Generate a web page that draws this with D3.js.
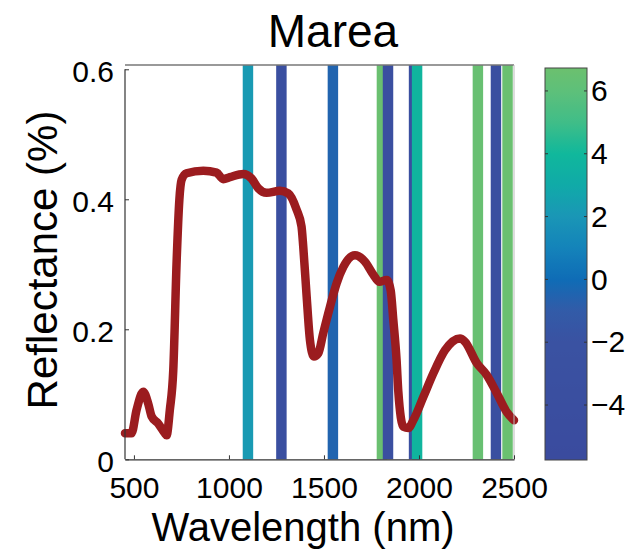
<!DOCTYPE html>
<html>
<head>
<meta charset="utf-8">
<script src="https://cdn.jsdelivr.net/npm/d3@7"></script>
<style>
  body { margin: 0; background: #fff; }
  text { font-family: "Liberation Sans", Arial, sans-serif; }
</style>
</head>
<body>
<div id="chart"></div>
<script>
// spectrum
const wavelengths = [453, 487, 514, 549, 575, 593, 628, 663, 672, 689, 707, 725, 739, 751, 777, 865, 935, 970, 1005, 1075, 1119, 1154, 1198, 1268, 1312, 1356, 1382, 1391, 1409, 1426, 1447, 1470, 1496, 1532, 1567, 1602, 1663, 1716, 1760, 1791, 1830, 1851, 1865, 1882, 1891, 1918, 1944, 1970, 2023, 2075, 2137, 2216, 2242, 2304, 2356, 2409, 2461, 2500];
const reflectance = [0.040, 0.040, 0.076, 0.104, 0.086, 0.066, 0.055, 0.040, 0.037, 0.076, 0.137, 0.307, 0.399, 0.430, 0.440, 0.444, 0.441, 0.431, 0.434, 0.439, 0.432, 0.417, 0.410, 0.413, 0.409, 0.384, 0.358, 0.327, 0.250, 0.184, 0.158, 0.163, 0.194, 0.235, 0.271, 0.296, 0.314, 0.304, 0.284, 0.273, 0.276, 0.260, 0.214, 0.153, 0.105, 0.050, 0.048, 0.060, 0.096, 0.132, 0.168, 0.186, 0.181, 0.148, 0.130, 0.102, 0.073, 0.060];

// selected bands and their weights (colour)
const bandCenters = [1100, 1276, 1547, 1805, 1837, 1974, 1990, 2310, 2405, 2466];
const bandValues = [2.2, -3.5, -0.5, 6.6, -3.5, -3.5, 3.8, 6.5, -3.5, 6.6];

const xTicks = [500, 1000, 1500, 2000, 2500];
const yTicks = [0, 0.2, 0.4, 0.6];
const cbTicks = [-4, -2, 0, 2, 4, 6];

const cmapValues = [-5.75, -2, -1, 0, 1, 2, 3, 4, 5, 6, 6.73];
const cmapColors = ["#3a4b9e", "#3a52a2", "#325ba8", "#0f6cb6", "#1483ba", "#1a96b6", "#10aaa8", "#10b89c", "#40bd88", "#5ec07a", "#6cc06e"];

const width = 635, height = 551;
const plotLeft = 125, plotRight = 514, plotTop = 65, plotBottom = 459.3;
const cbLeft = 545, cbRight = 587, cbTop = 68, cbBottom = 460;
const bandWidth = 55;
const fontTick = 30;

const svg = d3.select("#chart").append("svg")
    .attr("width", width)
    .attr("height", height);

const x = d3.scaleLinear().domain([453, 2500]).range([plotLeft, plotRight]);
const y = d3.scaleLinear().domain([0, 0.6066]).range([plotBottom, plotTop]);
const color = d3.scaleLinear().domain(cmapValues).range(cmapColors);
const cb = d3.scaleLinear().domain([-5.75, 6.73]).range([cbBottom, cbTop]);

// bands
svg.append("g").selectAll("rect")
    .data(bandCenters)
    .enter()
    .append("rect")
    .attr("x", d => x(d - bandWidth / 2))
    .attr("width", d => x(d + bandWidth / 2) - x(d - bandWidth / 2))
    .attr("y", plotTop)
    .attr("height", plotBottom - plotTop)
    .attr("fill", (d, i) => color(bandValues[i]));

// spectrum
const line = d3.line()
    .x((d, i) => x(wavelengths[i]))
    .y(d => y(d))
    .curve(d3.curveMonotoneX);

svg.append("path")
    .datum(reflectance)
    .attr("d", line)
    .attr("fill", "none")
    .attr("stroke", "#9b1c1f")
    .attr("stroke-width", 8.5)
    .attr("stroke-linejoin", "round")
    .attr("stroke-linecap", "round");

// axes box
svg.append("line")
    .attr("x1", plotLeft).attr("x2", plotRight)
    .attr("y1", plotTop).attr("y2", plotTop)
    .attr("stroke", "#777").attr("stroke-width", 1.5);
svg.append("line")
    .attr("x1", plotRight).attr("x2", plotRight)
    .attr("y1", plotTop).attr("y2", plotBottom)
    .attr("stroke", "#bbb").attr("stroke-width", 1);

const xAxis = d3.axisBottom(x).tickValues(xTicks).tickSize(-4).tickPadding(17).tickSizeOuter(0)
    .tickFormat(d3.format("d"));
const gx = svg.append("g")
    .attr("transform", "translate(0," + plotBottom + ")")
    .call(xAxis);
gx.select(".domain").attr("stroke", "#333").attr("stroke-width", 1.2);
gx.selectAll(".tick line").attr("stroke", "#333");
gx.selectAll("text").style("font-size", fontTick + "px").attr("fill", "#000");

const yAxis = d3.axisLeft(y).tickValues(yTicks).tickSize(-4).tickPadding(11).tickSizeOuter(0)
    .tickFormat(d => d === 0 ? "0" : d3.format(".1f")(d));
const gy = svg.append("g")
    .attr("transform", "translate(" + plotLeft + ",0)")
    .call(yAxis);
gy.select(".domain").attr("stroke", "#333").attr("stroke-width", 1.2)
    .attr("d", "M0," + y(0.6) + "V" + plotBottom);
gy.selectAll(".tick line").attr("stroke", "#333");
gy.selectAll("text").style("font-size", fontTick + "px").attr("fill", "#000").attr("dy", "0.42em");

// colour bar
const defs = svg.append("defs");
const grad = defs.append("linearGradient")
    .attr("id", "cbgrad")
    .attr("x1", 0).attr("x2", 0).attr("y1", 1).attr("y2", 0);
d3.range(0, 1.0001, 0.02).forEach(t => {
    const v = -5.75 + t * (6.73 + 5.75);
    grad.append("stop").attr("offset", t).attr("stop-color", color(v));
});
svg.append("rect")
    .attr("x", cbLeft).attr("y", cbTop)
    .attr("width", cbRight - cbLeft).attr("height", cbBottom - cbTop)
    .attr("fill", "url(#cbgrad)")
    .attr("stroke", "#444").attr("stroke-width", 1);

const cbAxis = d3.axisRight(cb).tickValues(cbTicks).tickSize(0).tickPadding(4)
    .tickFormat(d => d < 0 ? "\u2212" + Math.abs(d) : d);
const gc = svg.append("g")
    .attr("transform", "translate(" + cbRight + ",0)")
    .call(cbAxis);
gc.select(".domain").remove();
gc.selectAll("text").style("font-size", fontTick + "px").attr("fill", "#000");
// small inner ticks on both edges
svg.append("g").selectAll("path")
    .data(cbTicks)
    .enter()
    .append("path")
    .attr("d", d => "M" + cbLeft + "," + cb(d) + "h3M" + cbRight + "," + cb(d) + "h-3")
    .attr("stroke", "#333");

// labels
svg.append("text")
    .attr("x", 333).attr("y", 47)
    .attr("text-anchor", "middle")
    .style("font-size", "46px")
    .text("Marea");

svg.append("text")
    .attr("x", 303).attr("y", 541)
    .attr("text-anchor", "middle")
    .style("font-size", "40px")
    .text("Wavelength (nm)");

svg.append("text")
    .attr("transform", "translate(57,260) rotate(-90)")
    .attr("text-anchor", "middle")
    .style("font-size", "42px")
    .text("Reflectance (%)");
</script>
</body>
</html>
